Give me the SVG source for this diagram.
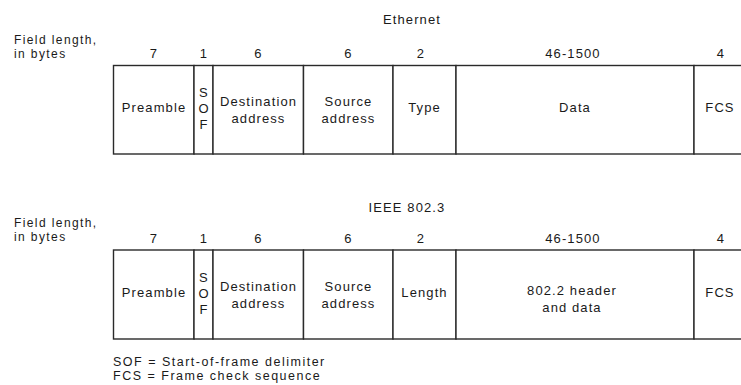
<svg xmlns="http://www.w3.org/2000/svg" width="741" height="385" viewBox="0 0 741 385">
<style>
text{font-family:"Liberation Sans",Arial,sans-serif;font-size:13px;fill:#1a1a1a;letter-spacing:1.1px}
.m{text-anchor:middle}
.s{font-size:12px;letter-spacing:1.4px}
.l{font-size:12.5px;letter-spacing:1.5px}
.f{fill:#fff;stroke:#2a2a2a;stroke-width:1.4}
</style>
<rect width="741" height="385" fill="#fff"/>
<g id="ethernet-frame">
<text id="eth-title" class="m" x="412" y="24">Ethernet</text>
<text class="s" x="14" y="44">Field length,</text>
<text class="s" x="14" y="58">in bytes</text>
<g id="eth-preamble"><rect class="f" x="113.5" y="65.5" width="80.5" height="88.5"/><text class="m" x="154" y="58">7</text><text class="m" x="154" y="112">Preamble</text></g>
<g id="eth-sof"><rect class="f" x="194" y="65.5" width="19" height="88.5"/><text class="m" x="204" y="58">1</text><text class="m" x="204" y="97">S</text><text class="m" x="204" y="113">O</text><text class="m" x="204" y="129">F</text></g>
<g id="eth-dest"><rect class="f" x="213" y="65.5" width="90.5" height="88.5"/><text class="m" x="258.5" y="58">6</text><text class="m" x="258.5" y="106">Destination</text><text class="m" x="258.5" y="123">address</text></g>
<g id="eth-src"><rect class="f" x="303.5" y="65.5" width="89.5" height="88.5"/><text class="m" x="348.5" y="58">6</text><text class="m" x="348.5" y="106">Source</text><text class="m" x="348.5" y="123">address</text></g>
<g id="eth-type"><rect class="f" x="393" y="65.5" width="63" height="88.5"/><text class="m" x="421" y="58">2</text><text class="m" x="424.5" y="112">Type</text></g>
<g id="eth-data"><rect class="f" x="456" y="65.5" width="238" height="88.5"/><text class="m" x="573" y="58">46-1500</text><text class="m" x="575" y="112">Data</text></g>
<g id="eth-fcs"><rect class="f" x="694" y="65.5" width="60" height="88.5"/><text class="m" x="721" y="58">4</text><text class="m" x="720" y="112">FCS</text></g>
</g>
<g id="ieee-frame">
<text id="ieee-title" class="m" x="407" y="212">IEEE 802.3</text>
<text class="s" x="14" y="227">Field length,</text>
<text class="s" x="14" y="241">in bytes</text>
<g id="ieee-preamble"><rect class="f" x="113.5" y="250" width="80.5" height="89"/><text class="m" x="154" y="242.5">7</text><text class="m" x="154" y="296.5">Preamble</text></g>
<g id="ieee-sof"><rect class="f" x="194" y="250" width="19" height="89"/><text class="m" x="204" y="242.5">1</text><text class="m" x="204" y="281.5">S</text><text class="m" x="204" y="297.5">O</text><text class="m" x="204" y="313.5">F</text></g>
<g id="ieee-dest"><rect class="f" x="213" y="250" width="90.5" height="89"/><text class="m" x="258.5" y="242.5">6</text><text class="m" x="258.5" y="290.5">Destination</text><text class="m" x="258.5" y="307.5">address</text></g>
<g id="ieee-src"><rect class="f" x="303.5" y="250" width="89.5" height="89"/><text class="m" x="348.5" y="242.5">6</text><text class="m" x="348.5" y="290.5">Source</text><text class="m" x="348.5" y="307.5">address</text></g>
<g id="ieee-length"><rect class="f" x="393" y="250" width="63" height="89"/><text class="m" x="421" y="242.5">2</text><text class="m" x="424.5" y="296.5">Length</text></g>
<g id="ieee-data"><rect class="f" x="456" y="250" width="238" height="89"/><text class="m" x="573" y="242.5">46-1500</text><text class="m" x="572" y="295">802.2 header</text><text class="m" x="572" y="312">and data</text></g>
<g id="ieee-fcs"><rect class="f" x="694" y="250" width="60" height="89"/><text class="m" x="721" y="242.5">4</text><text class="m" x="720" y="296.5">FCS</text></g>
</g>
<g id="connectors"></g>
<g id="legend">
<text class="l" x="113" y="366">SOF = Start-of-frame delimiter</text>
<text class="l" x="113" y="380">FCS = Frame check sequence</text>
</g>
</svg>
